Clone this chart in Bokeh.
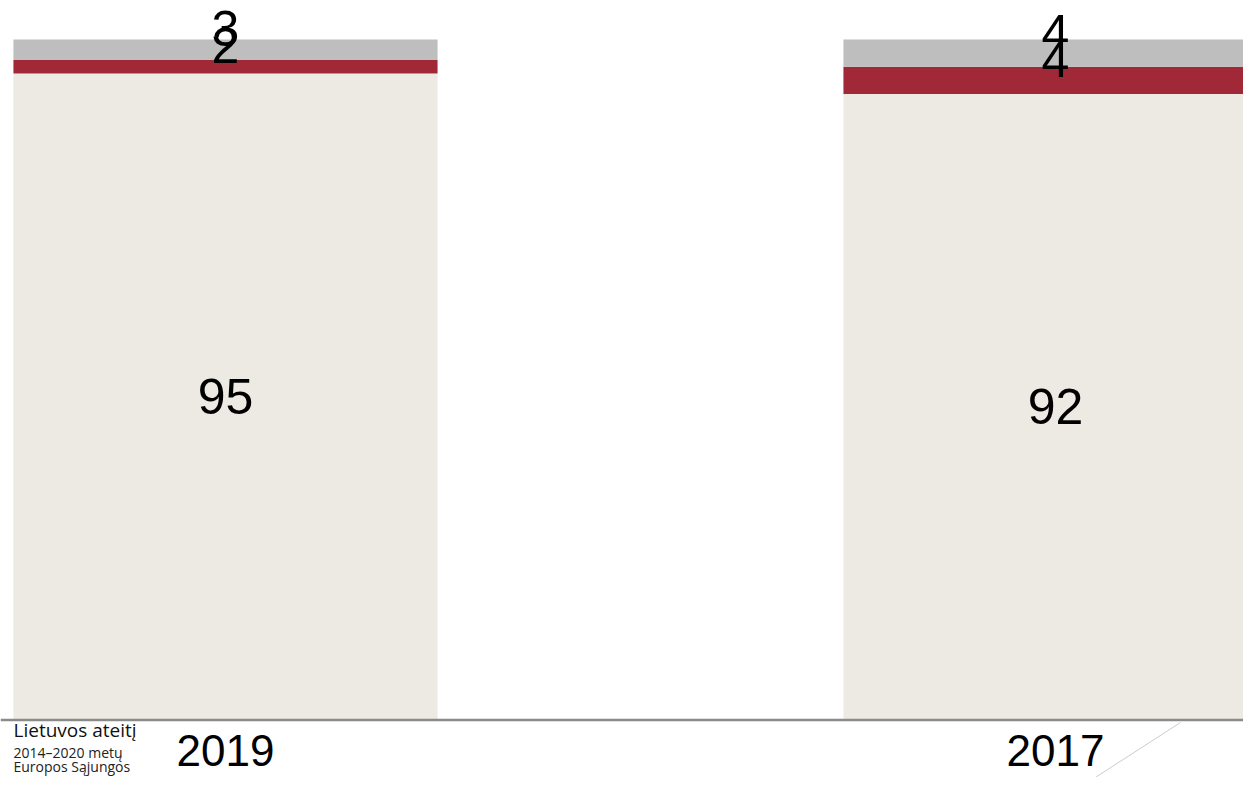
import numpy as np
from bokeh.plotting import figure
from bokeh.models import Range1d, ColumnDataSource, Span
from bokeh.core.properties import value
from bokeh.embed import file_html
from bokeh.resources import INLINE

# ---- data ----
categories = ["2019", "2017"]
base_vals = [95, 92]
mid_vals = [2, 4]
top_vals = [3, 4]
colors = ["#EDEAE3", "#A12837", "#BEBEBE"]
logo_lines = ["Lietuvos ateitį", "2014–2020 metų", "Europos Sąjungos"]

# ---- layout helpers (pixels -> data) ----
W, H = 1243, 777
XPX = 830.0          # pixels per category step
X0 = -225.0 / XPX    # data x at left canvas edge
YPX = 6.805          # pixels per percent
BASE_FY = 719.5      # pixel row of y = 0


def dx(fx):
    return X0 + fx / XPX


def dy(fy):
    return (BASE_FY - fy) / YPX


p = figure(width=W, height=H, output_backend="svg", toolbar_location=None,
           x_range=Range1d(dx(0), dx(W)), y_range=Range1d(dy(H), dy(0)),
           x_axis_location=None, y_axis_location=None,
           min_border=0, min_border_left=0, min_border_right=0,
           min_border_top=0, min_border_bottom=0)
p.outline_line_color = None
p.xgrid.visible = False
p.ygrid.visible = False
p.background_fill_color = "white"
p.border_fill_color = "white"

xs = np.arange(len(categories), dtype=float)
src = ColumnDataSource(dict(x=xs, base=base_vals, mid=mid_vals, top=top_vals))
p.vbar_stack(["base", "mid", "top"], x="x", width=0.511, source=src,
             color=colors, line_color=None)

# value labels at segment centres (small segments lifted above)
lx, ly, lt, loff = [], [], [], []
for i, _ in enumerate(categories):
    cum = 0.0
    for vals in (base_vals, mid_vals, top_vals):
        v = vals[i]
        lx.append(xs[i])
        ly.append(cum + v / 2.0)
        lt.append(str(v))
        loff.append(-21 if v < 10 else 0)
        cum += v
lsrc = ColumnDataSource(dict(x=lx, y=ly, t=lt, off=loff))
p.text(x="x", y="y", text="t", y_offset="off", source=lsrc,
       text_align="center", text_baseline="middle",
       text_font=value("Liberation Sans"), text_font_size="50px",
       text_color="black")

# baseline (category axis line)
p.add_layout(Span(location=0, dimension="width", line_color="#8A8A8A",
                  line_width=2.5))

# category labels
csrc = ColumnDataSource(dict(x=xs, y=[0.0] * len(xs), t=categories))
p.text(x="x", y="y", text="t", y_offset=30, source=csrc,
       text_align="center", text_baseline="middle",
       text_font=value("Liberation Sans"), text_font_size="44px",
       text_color="black")

# logo overlay text (bottom-left)
p.text(x=[dx(13)], y=[dy(729)], text=[logo_lines[0]],
       text_align="left", text_baseline="middle",
       text_font=value("Open Sans"), text_font_size="19px", text_color="#111111")
p.text(x=[dx(13), dx(13)], y=[dy(752), dy(766)], text=logo_lines[1:],
       text_align="left", text_baseline="middle",
       text_font=value("Open Sans"), text_font_size="14px", text_color="#222222")

# faint diagonal decoration (bottom-right)
p.line(x=[dx(1180), dx(1070)], y=[dy(722), dy(793)], line_color="#CCCCCC",
       line_width=1)

open("out.html", "w").write(file_html(p, INLINE))
